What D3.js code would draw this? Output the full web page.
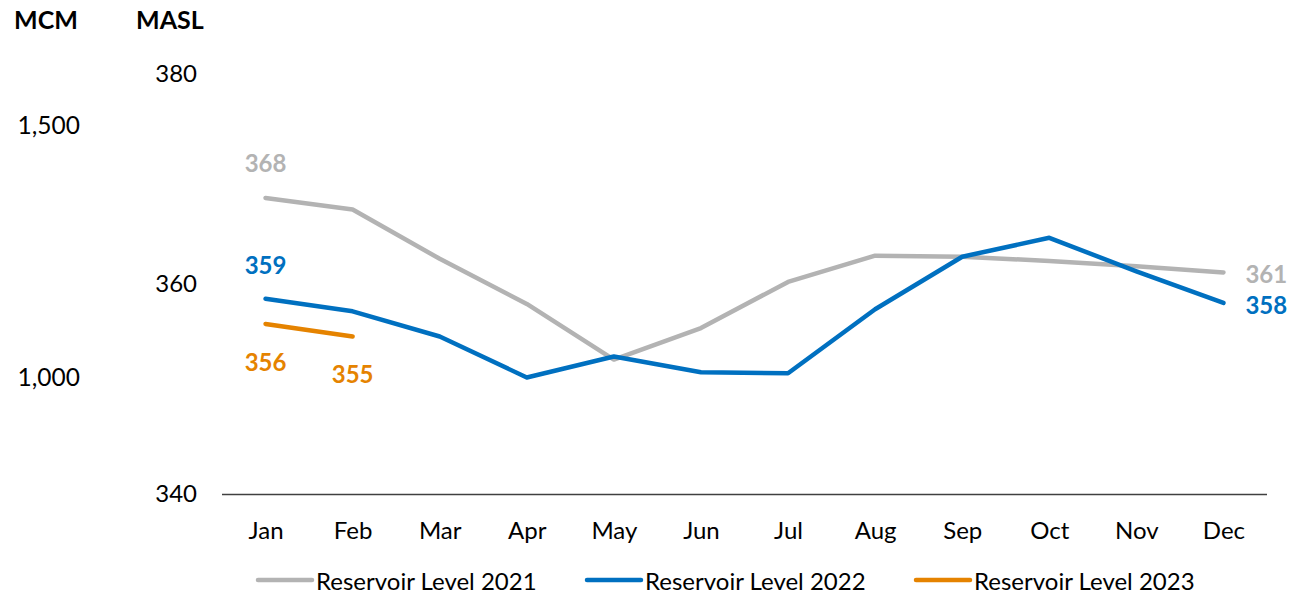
<!DOCTYPE html>
<html>
<head>
<meta charset="utf-8">
<script src="https://cdn.jsdelivr.net/npm/d3@7"></script>
<style>
  html, body { margin: 0; padding: 0; background: #fff; }
  svg { display: block; font-family: Lato, "Open Sans", sans-serif; }
</style>
</head>
<body>
<svg id="chart" width="1312" height="596"></svg>
<script>
// Monthly reservoir levels (metres above sea level)
const months = ["Jan", "Feb", "Mar", "Apr", "May", "Jun", "Jul", "Aug", "Sep", "Oct", "Nov", "Dec"];
const level2021 = [368.2, 367.1, 362.4, 358.1, 352.8, 355.8, 360.2, 362.7, 362.6, 362.2, 361.7, 361.1];
const level2022 = [358.6, 357.4, 355.0, 351.1, 353.1, 351.6, 351.5, 357.6, 362.6, 364.4, 361.2, 358.2];
const level2023 = [356.2, 355.0];
const maslTicks = [340, 360, 380];
const mcmTicks = [1000, 1500];
const seriesNames = ["Reservoir Level 2021", "Reservoir Level 2022", "Reservoir Level 2023"];

const colors = ["#B3B3B3", "#0070C0", "#E58300"];
const series = [level2021, level2022, level2023];

const svg = d3.select("#chart");
const plot = { left: 222, right: 1267, top: 74, bottom: 494 };

const x = d3.scalePoint().domain(months).range([plot.left, plot.right]).padding(0.5);
const yMasl = d3.scaleLinear().domain([340, 380]).range([plot.bottom, plot.top]);
// storage volume axis shares the same vertical range
const yMcm = d3.scaleLinear().domain([768, 1602]).range([plot.bottom, plot.top]);

const tickFont = 24;

// MASL axis (inner)
const maslAxis = svg.append("g").attr("transform", "translate(197,0)")
  .call(d3.axisLeft(yMasl).tickValues(maslTicks).tickSize(0).tickPadding(0));
maslAxis.select(".domain").remove();
maslAxis.selectAll("text").attr("font-size", tickFont).attr("fill", "#000")
  .attr("font-family", "Lato, sans-serif");

// MCM axis (outer)
const mcmAxis = svg.append("g").attr("transform", "translate(80,0)")
  .call(d3.axisLeft(yMcm).tickValues(mcmTicks).tickFormat(d3.format(",")).tickSize(0).tickPadding(0));
mcmAxis.select(".domain").remove();
mcmAxis.selectAll("text").attr("font-size", 24.5).attr("fill", "#000")
  .attr("font-family", "Lato, sans-serif");

// Axis titles
svg.append("text").attr("x", 14).attr("y", 29).attr("font-size", 25).attr("font-weight", "bold").text("MCM");
svg.append("text").attr("x", 136).attr("y", 29).attr("font-size", 25).attr("font-weight", "bold").text("MASL");

// Baseline and month labels
const xAxis = svg.append("g").attr("transform", `translate(0,${plot.bottom})`)
  .call(d3.axisBottom(x).tickSize(0).tickPadding(0).tickSizeOuter(0));
xAxis.select(".domain").attr("d", `M${plot.left},0.5H${plot.right}`).attr("stroke", "#404040").attr("stroke-width", 1.5);
xAxis.selectAll("text").attr("font-size", tickFont).attr("fill", "#000")
  .attr("font-family", "Lato, sans-serif").attr("dy", null).attr("y", 45);

// Lines
const line = d3.line().x((d, i) => x(months[i])).y(d => yMasl(d));
series.forEach((vals, k) => {
  svg.append("path").datum(vals)
    .attr("fill", "none").attr("stroke", colors[k]).attr("stroke-width", 4.5)
    .attr("stroke-linejoin", "round").attr("stroke-linecap", "round")
    .attr("d", line);
});

// Value labels
const fmt = d3.format(".0f");
const labels = [
  { s: 0, i: 0, dx: 0, dy: -35, anchor: "middle" },
  { s: 1, i: 0, dx: 0, dy: -34, anchor: "middle" },
  { s: 2, i: 0, dx: 0, dy: 38, anchor: "middle" },
  { s: 2, i: 1, dx: 0, dy: 37, anchor: "middle" },
  { s: 0, i: 11, dx: 22, dy: 1, anchor: "start" },
  { s: 1, i: 11, dx: 22, dy: 2, anchor: "start" }
];
labels.forEach(l => {
  const v = series[l.s][l.i];
  svg.append("text")
    .attr("x", x(months[l.i]) + l.dx)
    .attr("y", yMasl(v) + l.dy)
    .attr("dominant-baseline", "central")
    .attr("text-anchor", l.anchor)
    .attr("font-size", 24).attr("font-weight", "bold")
    .attr("fill", colors[l.s])
    .text(fmt(v));
});

// Legend
const legendX = [258, 587, 916];
const legend = svg.append("g");
seriesNames.forEach((name, k) => {
  const g = legend.append("g").attr("transform", `translate(${legendX[k]},580)`);
  g.append("line").attr("x1", 0).attr("x2", 54).attr("y1", 0).attr("y2", 0)
    .attr("stroke", colors[k]).attr("stroke-width", 4.5).attr("stroke-linecap", "round");
  g.append("text").attr("x", 58).attr("y", 0).attr("dominant-baseline", "central")
    .attr("font-size", 24).attr("fill", "#000").text(name);
});
</script>
</body>
</html>
